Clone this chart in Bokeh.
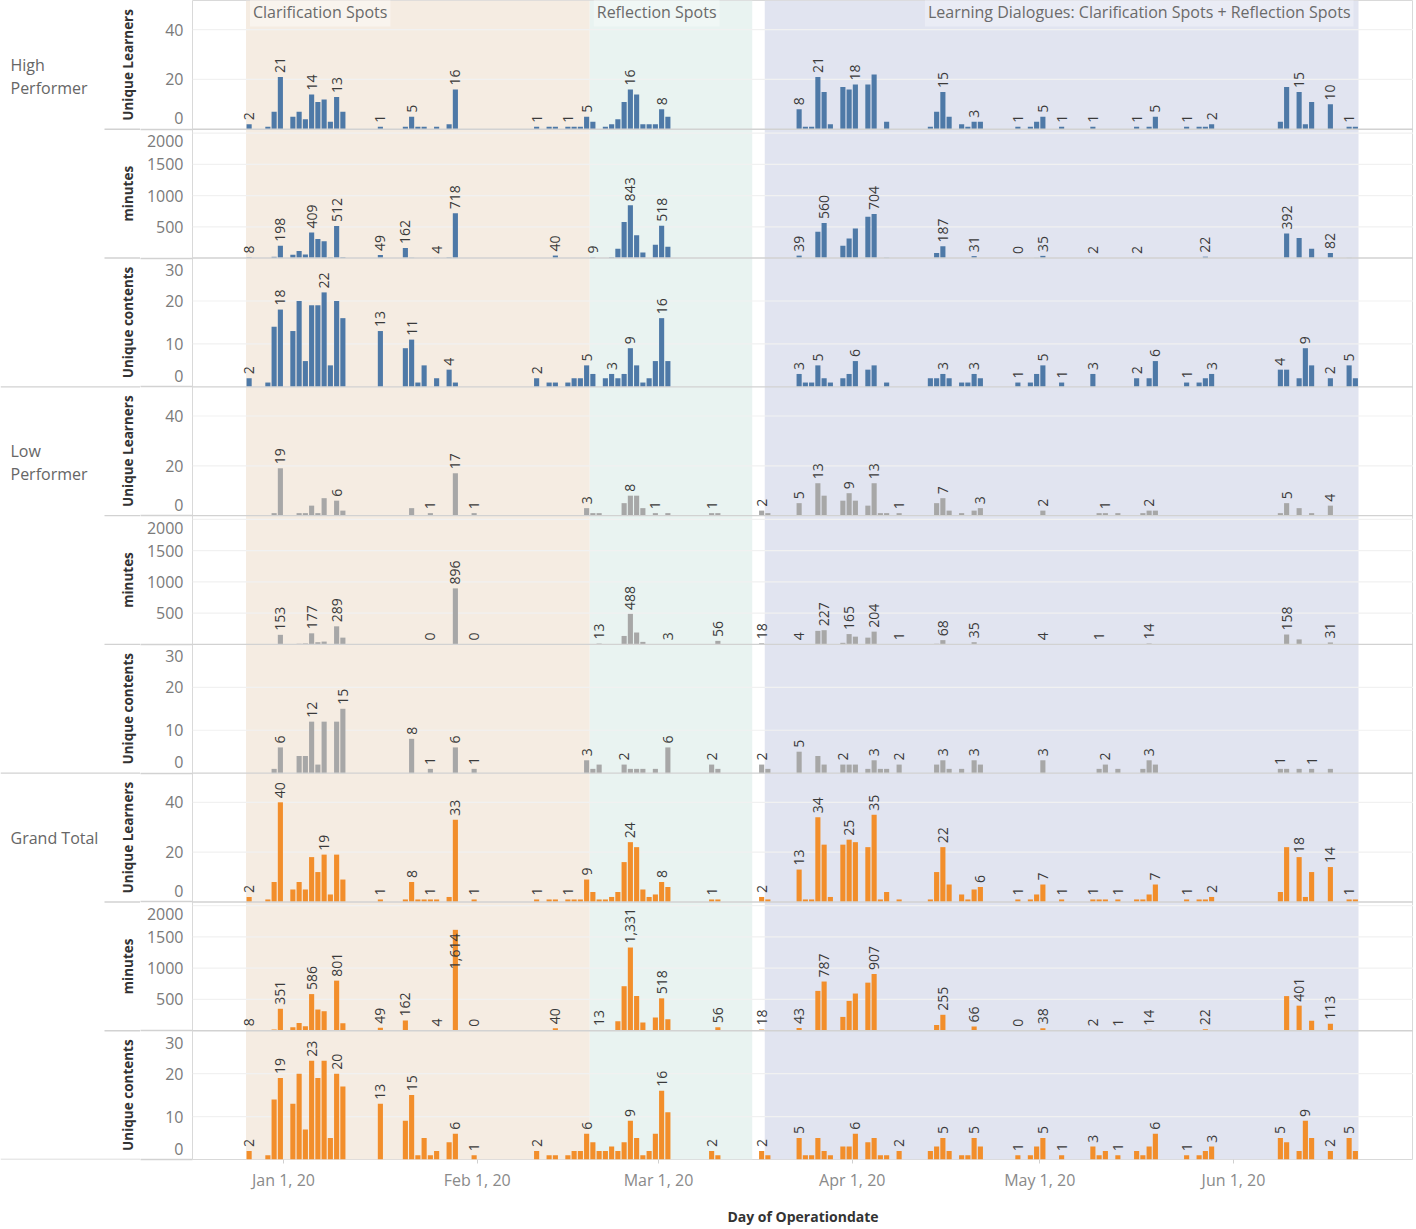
import math
import datetime as dt
from bokeh.plotting import figure
from bokeh.layouts import row
from bokeh.models import Range1d, FixedTicker, BoxAnnotation, Label, ColumnDataSource
from bokeh.core.properties import value
from bokeh.embed import file_html
from bokeh.resources import INLINE

# ---------------------------------------------------------------- data
x_tick_dates = ["01-01", "02-01", "03-01", "04-01", "05-01", "06-01"]
x_tick_labels = ["Jan 1, 20", "Feb 1, 20", "Mar 1, 20", "Apr 1, 20", "May 1, 20", "Jun 1, 20"]

phase_names = ["Clarification Spots", "Reflection Spots",
               "Learning Dialogues: Clarification Spots + Reflection Spots"]
phase_start = ["12-26", "02-19", "03-18"]
phase_end = ["02-19", "03-16", "06-21"]

group_names = ["High Performer", "Low Performer", "Grand Total"]
measure_names = ["Unique Learners", "minutes", "Unique contents"]
ticks_learners = [0, 20, 40]
ticks_minutes = [500, 1000, 1500, 2000]
ticks_contents = [0, 10, 20, 30]

# High Performer
hp_learners = [("12-26",2),("12-29",1),("12-30",7),("12-31",21),("01-02",5),("01-03",7),("01-04",4),("01-05",14),
    ("01-06",11),("01-07",12),("01-08",3),("01-09",13),("01-10",7),("01-16",1),("01-20",1),("01-21",5),("01-22",1),
    ("01-23",1),("01-25",1),("01-27",2),("01-28",16),("02-10",1),("02-12",1),("02-13",1),("02-15",1),("02-16",1),
    ("02-17",1),("02-18",5),("02-19",3),("02-21",1),("02-22",2),("02-23",4),("02-24",11),("02-25",16),("02-26",14),
    ("02-27",2),("02-28",2),("02-29",2),("03-01",8),("03-02",5),("03-23",8),("03-24",1),("03-25",1),("03-26",21),
    ("03-27",15),("03-28",2),("03-30",17),("03-31",16),("04-01",18),("04-03",18),("04-04",22),("04-06",3),("04-13",1),
    ("04-14",7),("04-15",15),("04-16",5),("04-18",2),("04-19",1),("04-20",3),("04-21",3),("04-27",1),("04-29",1),
    ("04-30",3),("05-01",5),("05-04",1),("05-09",1),("05-16",1),("05-18",1),("05-19",5),("05-24",1),("05-26",1),
    ("05-27",1),("05-28",2),("06-08",3),("06-09",17),("06-11",15),("06-12",2),("06-13",11),("06-16",10),("06-19",1),
    ("06-20",1)]
hp_learners_lab = ["12-26","12-31","01-05","01-09","01-16","01-21","01-28","02-10","02-15","02-18","02-25","03-01",
    "03-23","03-26","04-01","04-15","04-20","04-27","05-01","05-04","05-09","05-16","05-19","05-24","05-28","06-11",
    "06-16","06-19"]

hp_minutes = [("12-26",8),("12-30",20),("12-31",198),("01-02",54),("01-03",114),("01-04",55),("01-05",409),("01-06",304),
    ("01-07",267),("01-08",10),("01-09",512),("01-10",12),("01-16",49),("01-20",162),("01-21",5),("01-25",4),("01-27",10),
    ("01-28",718),("02-13",40),("02-19",9),("02-22",10),("02-23",150),("02-24",577),("02-25",843),("02-26",365),
    ("02-27",90),("02-29",212),("03-01",518),("03-02",180),("03-23",39),("03-26",420),("03-27",560),("03-30",196),
    ("03-31",312),("04-01",471),("04-03",661),("04-04",704),("04-06",5),("04-14",80),("04-15",187),("04-20",31),
    ("04-27",0),("04-30",3),("05-01",35),("05-09",2),("05-16",2),("05-27",22),("06-09",392),("06-11",321),("06-13",150),
    ("06-16",82),("06-19",3)]
hp_minutes_lab = ["12-26","12-31","01-05","01-09","01-16","01-20","01-25","01-28","02-13","02-19","02-25","03-01",
    "03-23","03-27","04-04","04-15","04-20","04-27","05-01","05-09","05-16","05-27","06-09","06-16"]

hp_contents = [("12-26",2),("12-29",1),("12-30",14),("12-31",18),("01-02",13),("01-03",20),("01-04",6),("01-05",19),
    ("01-06",19),("01-07",22),("01-08",5),("01-09",20),("01-10",16),("01-16",13),("01-20",9),("01-21",11),("01-22",1),
    ("01-23",5),("01-25",2),("01-27",4),("01-28",1),("02-10",2),("02-12",1),("02-13",1),("02-15",1),("02-16",2),
    ("02-17",2),("02-18",5),("02-19",3),("02-21",2),("02-22",3),("02-23",2),("02-24",3),("02-25",9),("02-26",5),
    ("02-27",1),("02-28",2),("02-29",6),("03-01",16),("03-02",6),("03-23",3),("03-24",1),("03-25",1),("03-26",5),
    ("03-27",2),("03-28",1),("03-30",2),("03-31",3),("04-01",6),("04-03",4),("04-04",5),("04-06",1),("04-13",2),
    ("04-14",2),("04-15",3),("04-16",2),("04-18",1),("04-19",1),("04-20",3),("04-21",2),("04-27",1),("04-29",1),
    ("04-30",3),("05-01",5),("05-04",1),("05-09",3),("05-16",2),("05-18",2),("05-19",6),("05-24",1),("05-26",1),
    ("05-27",2),("05-28",3),("06-08",4),("06-09",4),("06-11",2),("06-12",9),("06-13",5),("06-16",2),("06-19",5),
    ("06-20",2)]
hp_contents_lab = ["12-26","12-31","01-07","01-16","01-21","01-27","02-10","02-18","02-22","02-25","03-01","03-23",
    "03-26","04-01","04-15","04-20","04-27","05-01","05-04","05-09","05-16","05-19","05-24","05-28","06-08","06-12",
    "06-16","06-19"]

# Low Performer
lp_learners = [("12-30",1),("12-31",19),("01-03",1),("01-04",1),("01-05",4),("01-06",1),("01-07",7),("01-09",6),
    ("01-10",2),("01-21",3),("01-24",1),("01-28",17),("01-31",1),("02-18",3),("02-19",1),("02-20",1),("02-24",5),
    ("02-25",8),("02-26",8),("02-27",3),("02-29",1),("03-02",1),("03-09",1),("03-10",1),("03-17",2),("03-18",1),
    ("03-23",5),("03-26",13),("03-27",8),("03-30",6),("03-31",9),("04-01",6),("04-03",4),("04-04",13),("04-05",1),
    ("04-06",1),("04-08",1),("04-14",5),("04-15",7),("04-16",2),("04-18",1),("04-20",2),("04-21",3),("05-01",2),
    ("05-10",1),("05-11",1),("05-13",1),("05-17",1),("05-18",2),("05-19",2),("06-08",1),("06-09",5),("06-11",3),
    ("06-13",1),("06-16",4)]
lp_learners_lab = ["12-31","01-09","01-24","01-28","01-31","02-18","02-25","02-29","03-09","03-17","03-23","03-26",
    "03-31","04-04","04-08","04-15","04-21","05-01","05-11","05-18","06-09","06-16"]

lp_minutes = [("12-31",153),("01-03",10),("01-04",15),("01-05",177),("01-06",35),("01-07",45),("01-09",289),("01-10",108),
    ("01-24",0),("01-28",896),("01-31",0),("02-20",13),("02-24",135),("02-25",488),("02-26",190),("02-27",40),
    ("03-02",3),("03-10",56),("03-17",18),("03-23",4),("03-26",216),("03-27",227),("03-30",25),("03-31",165),
    ("04-01",124),("04-03",108),("04-04",204),("04-08",1),("04-14",10),("04-15",68),("04-18",5),("04-20",35),
    ("05-01",4),("05-10",1),("05-18",14),("06-09",158),("06-11",80),("06-13",5),("06-16",31)]
lp_minutes_lab = ["12-31","01-05","01-09","01-24","01-28","01-31","02-20","02-25","03-02","03-10","03-17","03-23",
    "03-27","03-31","04-04","04-08","04-15","04-20","05-01","05-10","05-18","06-09","06-16"]

lp_contents = [("12-30",1),("12-31",6),("01-03",4),("01-04",4),("01-05",12),("01-06",2),("01-07",12),("01-09",12),
    ("01-10",15),("01-21",8),("01-24",1),("01-28",6),("01-31",1),("02-18",3),("02-19",1),("02-20",2),("02-24",2),
    ("02-25",1),("02-26",1),("02-27",1),("02-29",1),("03-02",6),("03-09",2),("03-10",1),("03-17",2),("03-18",1),
    ("03-23",5),("03-26",4),("03-27",2),("03-30",2),("03-31",2),("04-01",2),("04-03",1),("04-04",3),("04-05",1),
    ("04-06",1),("04-08",2),("04-14",2),("04-15",3),("04-16",1),("04-18",1),("04-20",3),("04-21",2),("05-01",3),
    ("05-10",1),("05-11",2),("05-13",1),("05-17",1),("05-18",3),("05-19",2),("06-08",1),("06-09",1),("06-11",1),
    ("06-13",1),("06-16",1)]
lp_contents_lab = ["12-31","01-05","01-10","01-21","01-24","01-28","01-31","02-18","02-24","03-02","03-09","03-17",
    "03-23","03-30","04-04","04-08","04-15","04-20","05-01","05-11","05-18","06-08","06-13"]

# Grand Total
gt_learners = [("12-26",2),("12-29",1),("12-30",8),("12-31",40),("01-02",5),("01-03",8),("01-04",5),("01-05",18),
    ("01-06",12),("01-07",19),("01-08",3),("01-09",19),("01-10",9),("01-16",1),("01-20",1),("01-21",8),("01-22",1),
    ("01-23",1),("01-24",1),("01-25",1),("01-27",2),("01-28",33),("01-31",1),("02-10",1),("02-12",1),("02-13",1),
    ("02-15",1),("02-16",1),("02-17",1),("02-18",9),("02-19",4),("02-20",1),("02-21",1),("02-22",2),("02-23",4),
    ("02-24",16),("02-25",24),("02-26",22),("02-27",5),("02-28",2),("02-29",3),("03-01",8),("03-02",6),("03-09",1),
    ("03-10",1),("03-17",2),("03-18",1),("03-23",13),("03-24",1),("03-25",1),("03-26",34),("03-27",23),("03-28",2),
    ("03-30",23),("03-31",25),("04-01",24),("04-03",22),("04-04",35),("04-05",1),("04-06",4),("04-08",1),("04-13",1),
    ("04-14",12),("04-15",22),("04-16",7),("04-18",3),("04-19",1),("04-20",5),("04-21",6),("04-27",1),("04-29",1),
    ("04-30",3),("05-01",7),("05-04",1),("05-09",1),("05-10",1),("05-11",1),("05-13",1),("05-16",1),("05-17",1),
    ("05-18",3),("05-19",7),("05-24",1),("05-26",1),("05-27",1),("05-28",2),("06-08",4),("06-09",22),("06-11",18),
    ("06-12",2),("06-13",12),("06-16",14),("06-19",1),("06-20",1)]
gt_learners_lab = ["12-26","12-31","01-07","01-16","01-21","01-24","01-28","01-31","02-10","02-15","02-18","02-25",
    "03-01","03-09","03-17","03-23","03-26","03-31","04-04","04-15","04-21","04-27","05-01","05-04","05-09","05-13",
    "05-19","05-24","05-28","06-11","06-16","06-19"]

gt_minutes = [("12-26",8),("12-30",20),("12-31",351),("01-02",54),("01-03",124),("01-04",70),("01-05",586),("01-06",339),
    ("01-07",312),("01-08",10),("01-09",801),("01-10",120),("01-16",49),("01-20",162),("01-21",5),("01-25",4),
    ("01-27",10),("01-28",1614),("01-31",0),("02-13",40),("02-19",9),("02-20",13),("02-22",10),("02-23",150),
    ("02-24",712),("02-25",1331),("02-26",555),("02-27",130),("02-29",212),("03-01",518),("03-02",183),("03-10",56),
    ("03-17",18),("03-23",43),("03-26",637),("03-27",787),("03-30",221),("03-31",477),("04-01",595),("04-03",769),
    ("04-04",907),("04-06",5),("04-08",1),("04-14",90),("04-15",255),("04-18",5),("04-20",66),("04-27",0),("04-30",3),
    ("05-01",38),("05-09",2),("05-10",1),("05-13",1),("05-16",2),("05-18",14),("05-27",22),("06-09",554),("06-11",401),
    ("06-13",160),("06-16",113),("06-19",3)]
gt_minutes_lab = ["12-26","12-31","01-05","01-09","01-16","01-20","01-25","01-28","01-31","02-13","02-20","02-25",
    "03-01","03-10","03-17","03-23","03-27","04-04","04-15","04-20","04-27","05-01","05-09","05-13","05-18","05-27",
    "06-11","06-16"]

gt_contents = [("12-26",2),("12-29",1),("12-30",14),("12-31",19),("01-02",13),("01-03",20),("01-04",7),("01-05",23),
    ("01-06",19),("01-07",23),("01-08",5),("01-09",20),("01-10",17),("01-16",13),("01-20",9),("01-21",15),("01-22",1),
    ("01-23",5),("01-24",1),("01-25",2),("01-27",4),("01-28",6),("01-31",1),("02-10",2),("02-12",1),("02-13",1),
    ("02-15",1),("02-16",2),("02-17",2),("02-18",6),("02-19",4),("02-20",2),("02-21",2),("02-22",3),("02-23",2),
    ("02-24",4),("02-25",9),("02-26",5),("02-27",1),("02-28",2),("02-29",6),("03-01",16),("03-02",11),("03-09",2),
    ("03-10",1),("03-17",2),("03-18",1),("03-23",5),("03-24",1),("03-25",1),("03-26",5),("03-27",2),("03-28",1),
    ("03-30",3),("03-31",3),("04-01",6),("04-03",4),("04-04",5),("04-05",1),("04-06",1),("04-08",2),("04-13",2),
    ("04-14",3),("04-15",5),("04-16",2),("04-18",1),("04-19",1),("04-20",5),("04-21",3),("04-27",1),("04-29",1),
    ("04-30",3),("05-01",5),("05-04",1),("05-09",3),("05-10",1),("05-11",2),("05-13",1),("05-16",2),("05-17",1),
    ("05-18",3),("05-19",6),("05-24",1),("05-26",1),("05-27",2),("05-28",3),("06-08",5),("06-09",4),("06-11",2),
    ("06-12",9),("06-13",5),("06-16",2),("06-19",5),("06-20",2)]
gt_contents_lab = ["12-26","12-31","01-05","01-09","01-16","01-21","01-28","01-31","02-10","02-18","02-25","03-01",
    "03-09","03-17","03-23","04-01","04-08","04-15","04-20","04-27","05-01","05-04","05-09","05-13","05-19","05-24",
    "05-28","06-08","06-12","06-16","06-19"]

panels = [
    (group_names[0], measure_names[0], hp_learners, hp_learners_lab),
    (group_names[0], measure_names[1], hp_minutes, hp_minutes_lab),
    (group_names[0], measure_names[2], hp_contents, hp_contents_lab),
    (group_names[1], measure_names[0], lp_learners, lp_learners_lab),
    (group_names[1], measure_names[1], lp_minutes, lp_minutes_lab),
    (group_names[1], measure_names[2], lp_contents, lp_contents_lab),
    (group_names[2], measure_names[0], gt_learners, gt_learners_lab),
    (group_names[2], measure_names[1], gt_minutes, gt_minutes_lab),
    (group_names[2], measure_names[2], gt_contents, gt_contents_lab),
]
measure_ticks = {measure_names[0]: ticks_learners, measure_names[1]: ticks_minutes, measure_names[2]: ticks_contents}

# ---------------------------------------------------------------- style / layout
FONT = "Open Sans"
BAR_COLORS = {group_names[0]: "#4e79a7", group_names[1]: "#a7a7a7", group_names[2]: "#f28e2b"}
PHASE_FILL = ["#f5ece2", "#e9f3f1", "#e1e4f0"]
PHASE_BOX = ["#f9f4ee", "#f0f7f5", "#eaecf5"]
SEP_COLOR = "#d2d2d2"
HEADER_LINES = {group_names[0]: ["High", "Performer"], group_names[1]: ["Low", "Performer"],
                group_names[2]: ["Grand Total"]}
YMAX = {measure_names[0]: 51.7, measure_names[1]: 2060.0, measure_names[2]: 30.0}

FIG_H = 1228
LW = 140                 # header column width
BL = 52                  # room for the y tick labels
MAIN_W = 1413 - LW
BB = 63
FRAME_W = MAIN_W - BL
FRAME_H = FIG_H - BB
N = len(panels)
PH = FRAME_H / N
PX_PER_DAY = 6.25
JAN1_PX = 91.0   # distance of Jan 1 from the frame's left edge

DAY = 86400000.0
EPOCH = dt.datetime(1970, 1, 1)


def to_ms(md):
    m, d = int(md[:2]), int(md[3:])
    return (dt.datetime(2019 if m == 12 else 2020, m, d) - EPOCH).total_seconds() * 1000.0


x_start = to_ms("01-01") - JAN1_PX / PX_PER_DAY * DAY
x_end = x_start + FRAME_W / PX_PER_DAY * DAY

p = figure(width=MAIN_W, height=FIG_H, x_axis_type="datetime",
           x_range=Range1d(x_start, x_end), y_range=Range1d(0, N),
           output_backend="svg", toolbar_location=None,
           min_border_left=BL, min_border_right=0, min_border_top=0, min_border_bottom=BB)
p.xgrid.visible = False
p.ygrid.visible = False
p.background_fill_color = "white"
p.border_fill_color = "white"
p.outline_line_color = "#d9d9d9"
p.outline_line_width = 1

# phase background bands
for i in range(len(phase_names)):
    p.add_layout(BoxAnnotation(left=to_ms(phase_start[i]), right=to_ms(phase_end[i]),
                               fill_color=PHASE_FILL[i], fill_alpha=1.0, line_color=None, level="underlay"))

# per-panel y ranges
p.extra_y_ranges = {f"p{k}": Range1d(-(N - 1 - k) * YMAX[panels[k][1]], (k + 1) * YMAX[panels[k][1]])
                    for k in range(N)}

tick_pos = []
tick_over = {}
char_w = {",": 3.6}
for k, (grp, meas, data, labeled) in enumerate(panels):
    M = YMAX[meas]
    rn = f"p{k}"
    ppu = PH / M
    # gridlines
    gl = [t for t in measure_ticks[meas] if 0 < t < M]
    p.segment(x0=[x_start] * len(gl), x1=[x_end] * len(gl), y0=gl, y1=gl, y_range_name=rn,
              line_color="#f1f1f1", line_width=1.2)
    # bars
    src = ColumnDataSource(dict(x=[to_ms(d) + DAY / 2 for d, v in data], top=[v for d, v in data]))
    p.vbar(x="x", top="top", width=0.82 * DAY, bottom=0, source=src, y_range_name=rn,
           fill_color=BAR_COLORS[grp], line_color=None)
    # value labels
    lookup = dict(data)
    lx, ly, lt = [], [], []
    for d in labeled:
        v = lookup[d]
        s = f"{v:,}"
        L = sum(char_w.get(c, 8.0) for c in s)
        if v * ppu + 4 + L > PH - 2:
            base = v - (L + 4) / ppu
        else:
            base = v + 4 / ppu
        lx.append(to_ms(d) + DAY / 2)
        ly.append(base)
        lt.append(s)
    p.text(x=lx, y=ly, text=lt, y_range_name=rn, angle=math.pi / 2, text_align="left",
           text_baseline="middle", text_font=value(FONT), text_font_size="14px", text_color="#3a3a3a")
    # y tick labels (kept inside the panel like the original)
    bottom = N - 1 - k
    for t in measure_ticks[meas]:
        pos = bottom + t / M
        pos = min(max(pos, bottom + 11 / PH), bottom + 1 - 12 / PH)
        pos = round(pos, 6)
        tick_pos.append(pos)
        tick_over[pos] = str(t)

# separators inside the plotting area
sep = 0.7 / PH
for b in range(1, N):
    p.add_layout(BoxAnnotation(left=x_start, right=x_end, bottom=b - sep, top=b + sep,
                               fill_color=SEP_COLOR, fill_alpha=1.0, line_color=None, level="annotation"))

yax = p.yaxis[0]
yax.ticker = FixedTicker(ticks=tick_pos, minor_ticks=list(range(0, N)))
yax.major_label_overrides = tick_over
yax.axis_line_color = None
yax.major_tick_line_color = None
yax.major_tick_out = 0
yax.major_tick_in = 0
yax.minor_tick_line_color = SEP_COLOR      # separators continue through the tick-label strip
yax.minor_tick_line_width = 1.4
yax.minor_tick_out = BL
yax.minor_tick_in = 0
yax.major_label_standoff = 9 - BL          # labels sit 9px from the plot edge
yax.major_label_text_font = FONT
yax.major_label_text_font_size = "16px"
yax.major_label_text_color = "#7a7a7a"

xticks = [to_ms(d) for d in x_tick_dates]
xax = p.xaxis[0]
xax.ticker = FixedTicker(ticks=xticks)
xax.major_label_overrides = {t: lab for t, lab in zip(xticks, x_tick_labels)}
xax.axis_line_color = None
xax.major_tick_line_color = "#d0d0d0"
xax.major_tick_out = 4
xax.major_tick_in = 0
xax.minor_tick_line_color = None
xax.major_label_standoff = 5
xax.major_label_text_font = FONT
xax.major_label_text_font_size = "16px"
xax.major_label_text_color = "#8a8a8a"
xax.axis_label = "Day of Operationdate"
xax.axis_label_text_font = FONT
xax.axis_label_text_font_size = "14px"
xax.axis_label_text_font_style = "bold"
xax.axis_label_text_color = "#333333"
xax.axis_label_standoff = 13


def add_label(padding=None, **kw):
    lab = Label(**kw)
    if padding is not None:
        try:
            lab.padding = padding
        except Exception:
            pass
    p.add_layout(lab)
    return lab


# phase names along the top
for i, name in enumerate(phase_names):
    right = i == len(phase_names) - 1
    add_label(x=to_ms(phase_end[i]) if right else to_ms(phase_start[i]), x_offset=-5 if right else 4,
              y=N - 12 / PH, text=name, text_align="right" if right else "left", text_baseline="middle",
              text_font=FONT, text_font_size="16px", text_color="#6a6a6a",
              background_fill_color=PHASE_BOX[i], background_fill_alpha=1.0, padding=3)

# ---------------------------------------------------------------- header column
hdr = figure(width=LW, height=FIG_H, x_range=Range1d(0, LW), y_range=p.y_range,
             output_backend="svg", toolbar_location=None, x_axis_location=None, y_axis_location=None,
             min_border_left=0, min_border_right=0, min_border_top=0, min_border_bottom=BB)
hdr.xgrid.visible = False
hdr.ygrid.visible = False
hdr.outline_line_color = None
hdr.background_fill_color = "white"
hdr.border_fill_color = "white"

centers = [N - 1 - k + 0.5 for k in range(N)]
hdr.text(x=[127] * N, y=centers, text=[pn[1] for pn in panels], angle=math.pi / 2,
         text_align="center", text_baseline="middle", text_font=value(FONT), text_font_size="13.5px",
         text_font_style="bold", text_color="#333333")

hx, hy, ht = [], [], []
for k, pn in enumerate(panels):
    if k % 3 == 0:
        for j, line in enumerate(HEADER_LINES[pn[0]]):
            hx.append(10)
            hy.append(centers[k] - j * 23 / PH)
            ht.append(line)
hdr.text(x=hx, y=hy, text=ht, text_align="left", text_baseline="middle", text_font=value(FONT),
         text_font_size="16px", text_color="#666666")

sx0 = [0 if (N - b) % 3 == 0 else 104 for b in range(0, N)]
hdr.segment(x0=sx0, x1=[LW] * N, y0=list(range(0, N)), y1=list(range(0, N)),
            line_color=SEP_COLOR, line_width=1.4)

layout = row(hdr, p)
open("out.html", "w").write(file_html(layout, INLINE))
